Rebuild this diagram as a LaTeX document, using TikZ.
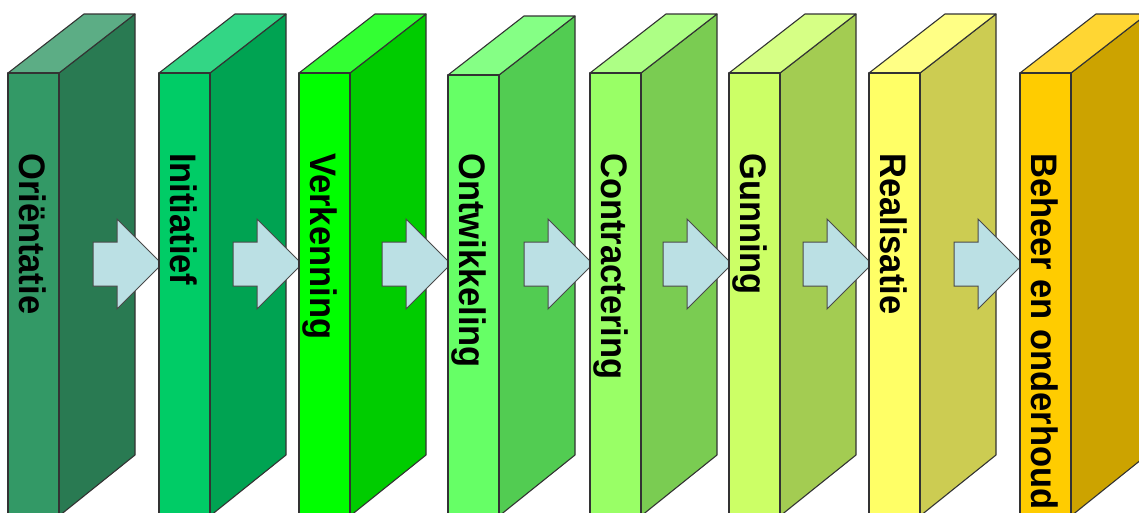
\documentclass[tikz,border=0pt]{standalone}
\usepackage{fontspec}
\setmainfont{Liberation Sans}
\definecolor{c1}{HTML}{339966}
\definecolor{c2}{HTML}{00CC66}
\definecolor{c3}{HTML}{00FF00}
\definecolor{c4}{HTML}{66FF66}
\definecolor{c5}{HTML}{99FF66}
\definecolor{c6}{HTML}{CCFF66}
\definecolor{c7}{HTML}{FFFF66}
\definecolor{c8}{HTML}{FFCC00}
\definecolor{edge}{HTML}{333333}
\definecolor{arrowfill}{HTML}{BBE0E4}
\definecolor{arrowedge}{HTML}{4A4A4A}
\tikzset{
  face/.style={draw=edge, line width=1.1pt, line join=round},
  blockarrow/.style={fill=arrowfill, draw=arrowedge, line width=1pt, line join=miter},
  phase/.style={font=\fontsize{34.5}{34.5}\selectfont\bfseries, text=black, inner sep=0pt, anchor=base west, rotate=-90, yscale=1.07}
}
\begin{document}
\begin{tikzpicture}[x=1pt,y=-1pt]
\useasboundingbox (0,0) rectangle (1139,512);
\clip (0,0) rectangle (1139,512);
\foreach \x/\t/\c/\lab [count=\i] in {8/73/c1/Oriëntatie, 159/73/c2/Initiatief, 299/73/c3/Verkenning, 448/75/c4/Ontwikkeling, 590/73/c5/Contractering, 729/73/c6/Gunning, 869/73/c7/Realisatie, 1020/73/c8/Beheer en onderhoud}{
  \ifnum\i>1
    \coordinate (tip\i) at (\x+3,264);
    \draw[blockarrow] (tip\i) -- ++(-45,-45) -- ++(0,23) -- ++(-24,0) -- ++(0,44) -- ++(24,0) -- ++(0,23) -- cycle;
  \fi
  \coordinate (f\i) at (\x,\t);
  \filldraw[face, fill=\c!80!black] (\x+51,\t) -- (\x+127,\t-59) -- (\x+127,455) -- (\x+51,516) -- cycle;
  \filldraw[face, fill=\c!80!white] (f\i) -- (\x+76,\t-59) -- (\x+127,\t-59) -- (\x+51,\t) -- cycle;
  \filldraw[face, fill=\c] (f\i) -- (\x+51,\t) -- (\x+51,516) -- (\x,516) -- cycle;
  \node[phase] (t\i) at (\x+11,153) {\lab};
}
\end{tikzpicture}
\end{document}
